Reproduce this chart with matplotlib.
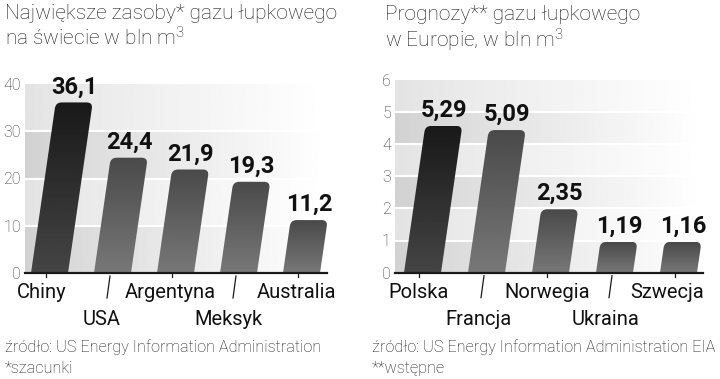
import numpy as np
import matplotlib.pyplot as plt
from matplotlib.path import Path
from matplotlib.patches import PathPatch

plt.rcParams['font.family'] = ['Roboto', 'DejaVu Sans']
plt.rcParams['mathtext.fontset'] = 'custom'
plt.rcParams['mathtext.rm'] = 'Roboto:light'
plt.rcParams['mathtext.it'] = 'Roboto:light'

W, H = 720, 379

# left chart: world reserves
world_countries = ['Chiny', 'USA', 'Argentyna', 'Meksyk', 'Australia']
world_values = [36.1, 24.4, 21.9, 19.3, 11.2]
world_labels = ['36,1', '24,4', '21,9', '19,3', '11,2']

# right chart: Europe forecasts
europe_countries = ['Polska', 'Francja', 'Norwegia', 'Ukraina', 'Szwecja']
europe_labels = ['5,29', '5,09', '2,35', '1,19', '1,16']
# heights the bars are actually drawn at in the picture
europe_heights = [4.56, 4.43, 1.97, 0.96, 0.96]

fig = plt.figure(figsize=(W / 100, H / 100), dpi=100)


def px_rect(x0, y0, x1, y1):
    # pixel box (top-left origin) -> figure fraction rect
    return [x0 / W, 1 - y1 / H, (x1 - x0) / W, (y1 - y0) / H]


def bar_path(xc, h, sx, sy, w=37, s=0.145, r=6):
    hp = h * sy
    dx = s * hp
    n = np.hypot(s, 1)
    ux, uy = s / n, 1 / n
    tl = (-w / 2 + dx, hp)
    tr = (w / 2 + dx, hp)
    verts = [(-w / 2, 0),
             (tl[0] - r * ux, tl[1] - r * uy), tl, (tl[0] + r, tl[1]),
             (tr[0] - r, tr[1]), tr, (tr[0] - r * ux, tr[1] - r * uy),
             (w / 2, 0), (-w / 2, 0)]
    codes = [Path.MOVETO, Path.LINETO, Path.CURVE3, Path.CURVE3,
             Path.LINETO, Path.CURVE3, Path.CURVE3, Path.LINETO, Path.CLOSEPOLY]
    verts = [(xc + vx / sx, vy / sy) for vx, vy in verts]
    return Path(verts, codes), dx / sx


def panel(rect, x_first, x_step, ymax, ystep, names, heights, labels,
          low_shift, x_shift):
    ax = fig.add_axes(px_rect(*rect))
    x0, y0, x1, y1 = rect
    xlim = ((x0 - x_first) / x_step, (x1 - x_first) / x_step)
    sx = x_step
    sy = (y1 - y0) / ymax

    # background: bands fading from grey to white
    nb = int(ymax / ystep)
    t = np.linspace(0, 1, 256) ** 0.9
    rows = []
    for j in range(nb):
        g = 0.89 if j % 2 == 0 else 0.82
        rows.append(np.tile(g + (1 - g) * t, (20, 1)))
    bg = np.vstack(rows)
    ax.imshow(bg, extent=(xlim[0], xlim[1], 0, ymax), cmap='gray',
              vmin=0, vmax=1, aspect='auto', zorder=0, interpolation='bilinear')
    for v in np.arange(ystep, ymax, ystep):
        ax.axhline(v, color='white', lw=1.5, zorder=1)

    for i, (h, lab) in enumerate(zip(heights, labels)):
        xc = i + 3.5 / sx
        path, shift = bar_path(xc, h, sx, sy)
        patch = PathPatch(path, facecolor='none', edgecolor='none')
        ax.add_patch(patch)
        top, bot = (0.10, 0.27) if i == 0 else (0.29, 0.47)
        grad = np.linspace(top, bot, 100).reshape(-1, 1)
        im = ax.imshow(grad, extent=(xc - 0.5, xc + 0.5 + shift, 0, h),
                       cmap='gray', vmin=0, vmax=1, aspect='auto', zorder=3)
        im.set_clip_path(patch)
        ax.annotate(lab, xy=(xc + shift, h), xytext=(0, 6.5),
                    textcoords='offset points', ha='center', va='baseline',
                    fontsize=17, fontweight='bold', color='#111111')

    ax.axhline(0, color='#1a1a1a', lw=1.6, zorder=5, clip_on=False)

    for i, name in enumerate(names):
        xt = i
        if i % 2 == 0:
            ax.plot([xt, xt], [0, -4 / sy], color='#1a1a1a', lw=0.9,
                    clip_on=False)
            base = 298
            dx = x_shift[i]
        else:
            ax.plot([xt + 1 / sx, xt - 2 / sx], [-3 / sy, -25 / sy],
                    color='#1a1a1a', lw=0.9, clip_on=False)
            base = 325
            dx = low_shift
        ax.annotate(name, xy=(xt + dx / sx, H - base),
                    xycoords=('data', 'figure pixels'), ha='center',
                    va='baseline', fontsize=14.5, color='#111111',
                    annotation_clip=False)

    ax.set_xlim(xlim)
    ax.set_ylim(0, ymax)
    ax.set_xticks([])
    ax.set_yticks(np.arange(0, ymax + ystep / 2, ystep))
    ax.set_yticklabels([str(int(v)) for v in np.arange(0, ymax + ystep / 2, ystep)])
    ax.tick_params(axis='y', length=0, pad=3, labelsize=11.5, labelcolor='#333333')
    for lb in ax.get_yticklabels():
        lb.set_fontweight('light')
    for sp in ax.spines.values():
        sp.set_visible(False)
    return ax


panel((25, 84, 327, 273), 46, 63, 40, 10, world_countries, world_values,
      world_labels, -7, [-4, 0, -2, 0, -2])
panel((395, 79.5, 703, 272.7), 419, 64, 6, 1, europe_countries, europe_heights,
      europe_labels, -5, [0, 0, 0, 0, -8])

txt = dict(fontweight='light', color='#1a1a1a', va='baseline')
fig.text(5 / W, 1 - 19 / H, 'Największe zasoby* gazu łupkowego', fontsize=15, **txt)
fig.text(5 / W, 1 - 46 / H, 'na świecie w bln m$^3$', fontsize=15, **txt)
fig.text(385 / W, 1 - 20 / H, 'Prognozy** gazu łupkowego', fontsize=15, **txt)
fig.text(385 / W, 1 - 47 / H, 'w Europie, w bln m$^3$', fontsize=15, **txt)

fig.text(5 / W, 1 - 352 / H, 'źródło: US Energy Information Administration', fontsize=11.7, **txt)
fig.text(5 / W, 1 - 373 / H, '*szacunki', fontsize=11.7, **txt)
fig.text(372 / W, 1 - 352 / H, 'źródło: US Energy Information Administration EIA', fontsize=11.7, **txt)
fig.text(372 / W, 1 - 373 / H, '**wstępne', fontsize=11.7, **txt)

fig.savefig('out.png', dpi=100)
